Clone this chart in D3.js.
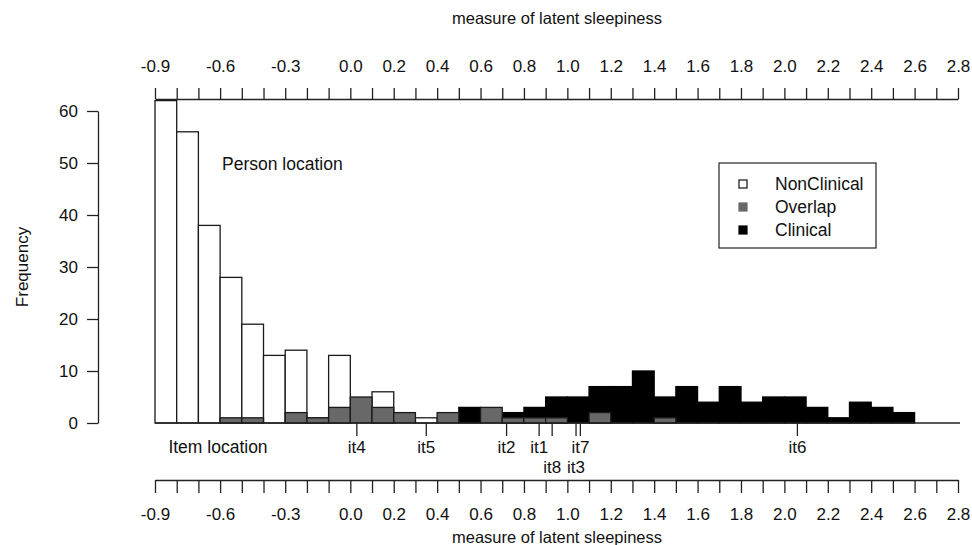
<!DOCTYPE html>
<html>
<head>
<meta charset="utf-8">
<script src="https://cdn.jsdelivr.net/npm/d3@7/dist/d3.min.js"></script>
<style>
  html, body { margin: 0; padding: 0; background: #fff; }
  svg { display: block; font-family: "Liberation Sans", Arial, sans-serif; }
</style>
</head>
<body>
<svg id="chart" width="972" height="545"></svg>
<script>
// ---- data ----
const binStarts = [-0.9,-0.8,-0.7,-0.6,-0.5,-0.4,-0.3,-0.2,-0.1,0.0,0.1,0.2,0.3,0.4,0.5,0.6,0.7,0.8,0.9,1.0,1.1,1.2,1.3,1.4,1.5,1.6,1.7,1.8,1.9,2.0,2.1,2.2,2.3,2.4,2.5];
const binWidth = 0.1;
const nonClinical = [62,56,38,28,19,13,14,1,13,0,6,0,1,0,0,0,0,0,0,0,0,0,0,0,0,0,0,0,0,0,0,0,0,0,0];
const clinical    = [0,0,0,0,0,0,0,0,0,0,0,0,0,0,3,0,2,3,5,5,7,7,10,5,7,4,7,4,5,5,3,1,4,3,2];
const overlap     = [0,0,0,1,1,0,2,1,3,5,3,2,0,2,0,3,1,1,1,0,2,0,0,1,0,0,0,0,0,0,0,0,0,0,0];
const itemNames = ["it1","it2","it3","it4","it5","it6","it7","it8"];
const itemLocs  = [0.87, 0.72, 1.04, 0.03, 0.35, 2.06, 1.06, 0.93];
const itemLabelLine = [0,0,1,0,0,0,0,1];
const axisTickValues = d3.range(-9, 29).map(i => i / 10);
const axisLabelValues = [-0.9,-0.6,-0.3,0.0,0.2,0.4,0.6,0.8,1.0,1.2,1.4,1.6,1.8,2.0,2.2,2.4,2.6,2.8];
const yTickValues = [0,10,20,30,40,50,60];
const seriesNames = ["NonClinical","Overlap","Clinical"];
const seriesColors = ["#ffffff","#686868","#000000"];
const xTitle = "measure of latent sleepiness";
const yTitle = "Frequency";

// ---- layout ----
const svg = d3.select("#chart");
const x = d3.scaleLinear().domain([-0.9, 2.8]).range([155, 958]);
const y = d3.scaleLinear().domain([0, 60]).range([423, 111]);
const ink = "#222";
const fontTick = "17px";

const isLabeled = d => axisLabelValues.some(v => Math.abs(v - d) < 1e-6);
const fmt = d => isLabeled(d) ? d.toFixed(1) : "";

// histograms: nonclinical (white), clinical (black), overlap (grey) on top
function drawHist(values, fill, stroke) {
  svg.append("g").selectAll("rect")
    .data(binStarts.map((b, i) => ({b, v: values[i]})).filter(d => d.v > 0))
    .join("rect")
    .attr("x", d => x(d.b))
    .attr("y", d => y(d.v))
    .attr("width", d => x(d.b + binWidth) - x(d.b))
    .attr("height", d => y(0) - y(d.v))
    .attr("fill", fill)
    .attr("stroke", stroke)
    .attr("stroke-width", 1.3);
}
drawHist(nonClinical, seriesColors[0], "#1a1a1a");
drawHist(clinical, seriesColors[2], "#000");
drawHist(overlap, seriesColors[1], "#1a1a1a");

// baseline
svg.append("line")
  .attr("x1", x(-0.9)).attr("x2", x(2.8) + 2)
  .attr("y1", y(0)).attr("y2", y(0))
  .attr("stroke", ink).attr("stroke-width", 1.3);

// top axis
const gTop = svg.append("g").attr("transform", "translate(0,99)")
  .call(d3.axisTop(x).tickValues(axisTickValues).tickFormat(fmt).tickSize(11).tickSizeOuter(0).tickPadding(16));
// bottom axis
const gBot = svg.append("g").attr("transform", "translate(0,480)")
  .call(d3.axisBottom(x).tickValues(axisTickValues).tickFormat(fmt).tickSize(13).tickSizeOuter(0).tickPadding(15));
// left axis
const gLeft = svg.append("g").attr("transform", "translate(98,0)")
  .call(d3.axisLeft(y).tickValues(yTickValues).tickFormat(d3.format("d")).tickSize(11).tickSizeOuter(0).tickPadding(9));

[gTop, gBot, gLeft].forEach(g => {
  g.selectAll("path.domain").attr("stroke", ink).attr("stroke-width", 1.3);
  g.selectAll(".tick line").attr("stroke", ink).attr("stroke-width", 1.3);
  g.selectAll(".tick text").attr("fill", "#111").style("font-size", fontTick)
    .style("font-family", '"Liberation Sans", Arial, sans-serif');
});

// axis titles
svg.append("text").attr("x", 557).attr("y", 24).attr("text-anchor", "middle")
  .style("font-size", "16.5px").attr("fill", "#111").text(xTitle);
svg.append("text").attr("x", 557).attr("y", 543).attr("text-anchor", "middle")
  .style("font-size", "16.5px").attr("fill", "#111").text(xTitle);
svg.append("text").attr("transform", "translate(28,267) rotate(-90)").attr("text-anchor", "middle")
  .style("font-size", "17px").attr("fill", "#111").text(yTitle);

// annotations
svg.append("text").attr("x", 222).attr("y", 170)
  .style("font-size", "17.5px").attr("fill", "#111").text("Person location");
svg.append("text").attr("x", 218).attr("y", 453).attr("text-anchor", "middle")
  .style("font-size", "17.5px").attr("fill", "#111").text("Item location");

// item ticks and labels
const items = itemNames.map((n, i) => ({n, v: itemLocs[i], line: itemLabelLine[i]}));
svg.append("g").selectAll("line").data(items).join("line")
  .attr("x1", d => x(d.v)).attr("x2", d => x(d.v))
  .attr("y1", y(0)).attr("y2", y(0) + 13)
  .attr("stroke", ink).attr("stroke-width", 1.3);
svg.append("g").selectAll("text").data(items).join("text")
  .attr("x", d => x(d.v))
  .attr("y", d => 453 + d.line * 20)
  .attr("text-anchor", "middle")
  .style("font-size", "17px").attr("fill", "#111")
  .text(d => d.n);

// legend
const lg = svg.append("g");
lg.append("rect").attr("x", 719).attr("y", 163).attr("width", 157).attr("height", 85)
  .attr("fill", "#fff").attr("stroke", ink).attr("stroke-width", 1.2);
seriesNames.forEach((name, i) => {
  const cy = 184 + i * 23;
  lg.append("rect").attr("x", 739).attr("y", cy - 4).attr("width", 8).attr("height", 8)
    .attr("fill", seriesColors[i]).attr("stroke", i === 0 ? "#111" : seriesColors[i]).attr("stroke-width", 1.2);
  lg.append("text").attr("x", 775).attr("y", cy + 6)
    .style("font-size", "17.5px").attr("fill", "#111").text(name);
});
</script>
</body>
</html>
